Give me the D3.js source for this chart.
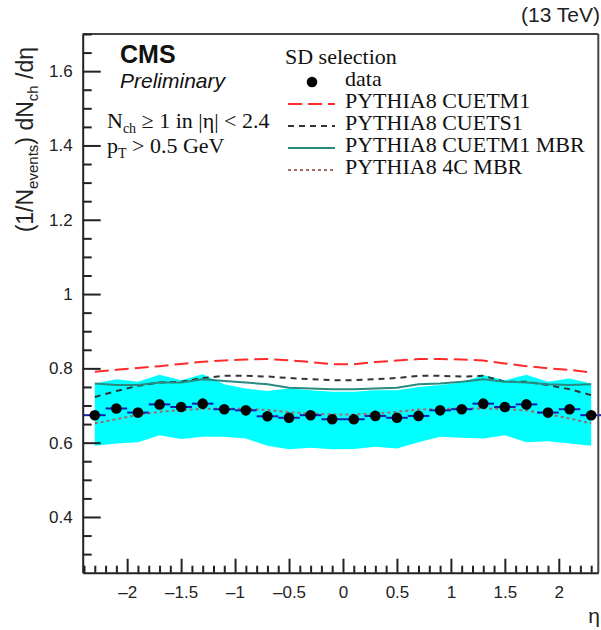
<!DOCTYPE html>
<html>
<head>
<meta charset="utf-8">
<script src="https://cdn.jsdelivr.net/npm/d3@7"></script>
<style>
  body { margin: 0; background: #fff; }
  svg { display: block; }
</style>
</head>
<body>
<svg id="chart" width="601" height="630"></svg>
<script>
// Pseudorapidity bin centres (bin width 0.2)
const etaCenters = [-2.3, -2.1, -1.9, -1.7, -1.5, -1.3, -1.1, -0.9, -0.7, -0.5, -0.3, -0.1,
                     0.1, 0.3, 0.5, 0.7, 0.9, 1.1, 1.3, 1.5, 1.7, 1.9, 2.1, 2.3];
const binHalfWidth = 0.1;

// Measured dN/deta, SD selection
const dataValues = [0.674, 0.692, 0.681, 0.703, 0.696, 0.705, 0.690, 0.687, 0.671, 0.667, 0.674, 0.663,
                    0.663, 0.672, 0.667, 0.672, 0.687, 0.690, 0.705, 0.696, 0.703, 0.681, 0.690, 0.674];

// Systematic uncertainty band (lower / upper edge)
const bandLow  = [0.592, 0.598, 0.601, 0.620, 0.610, 0.616, 0.616, 0.611, 0.592, 0.582, 0.586, 0.582,
                  0.583, 0.589, 0.584, 0.601, 0.616, 0.613, 0.611, 0.620, 0.601, 0.604, 0.598, 0.592];
const bandHigh = [0.759, 0.771, 0.764, 0.783, 0.768, 0.784, 0.757, 0.746, 0.739, 0.746, 0.741, 0.737,
                  0.737, 0.741, 0.741, 0.750, 0.755, 0.762, 0.782, 0.768, 0.783, 0.764, 0.773, 0.759];

// Generator predictions
const pythiaCUETM1    = [0.791, 0.796, 0.801, 0.806, 0.812, 0.818, 0.821, 0.824, 0.825, 0.822, 0.817, 0.811,
                         0.811, 0.817, 0.821, 0.825, 0.825, 0.824, 0.821, 0.813, 0.806, 0.800, 0.796, 0.789];
const pythiaCUETS1    = [0.723, 0.739, 0.753, 0.762, 0.764, 0.774, 0.780, 0.780, 0.778, 0.774, 0.771, 0.768,
                         0.768, 0.771, 0.774, 0.780, 0.780, 0.778, 0.780, 0.764, 0.764, 0.755, 0.744, 0.728];
const pythiaCUETM1MBR = [0.759, 0.755, 0.755, 0.762, 0.762, 0.771, 0.766, 0.762, 0.757, 0.748, 0.746, 0.744,
                         0.744, 0.746, 0.748, 0.757, 0.759, 0.764, 0.771, 0.764, 0.762, 0.757, 0.755, 0.757];
const pythia4CMBR     = [0.652, 0.663, 0.675, 0.683, 0.688, 0.691, 0.692, 0.691, 0.688, 0.682, 0.678, 0.676,
                         0.676, 0.678, 0.683, 0.689, 0.691, 0.692, 0.692, 0.690, 0.687, 0.677, 0.665, 0.652];

// Axis ticks
const xMajorTicks = [-2, -1.5, -1, -0.5, 0, 0.5, 1, 1.5, 2];
const xTickLabels = ["\u20132", "\u20131.5", "\u20131", "\u20130.5", "0", "0.5", "1", "1.5", "2"];
const xMinorTicks = d3.range(-24, 24).map(i => i / 10).filter(v => Math.abs(v * 2 - Math.round(v * 2)) > 1e-6);
const yMajorTicks = [0.4, 0.6, 0.8, 1, 1.2, 1.4, 1.6];
const yTickLabels = ["0.4", "0.6", "0.8", "1", "1.2", "1.4", "1.6"];
const yMinorTicks = d3.range(6, 35).map(i => i * 0.05).filter(v => Math.abs(v * 5 - Math.round(v * 5)) > 1e-6);

const legendEntries = [
  { label: "PYTHIA8 CUETM1",     color: "#ff2a2a", dash: "14,6", width: 2 },
  { label: "PYTHIA8 CUETS1",     color: "#333333", dash: "6,5",  width: 2 },
  { label: "PYTHIA8 CUETM1 MBR", color: "#2a8a80", dash: null,   width: 2 },
  { label: "PYTHIA8 4C MBR",     color: "#a06a6a", dash: "3,3",  width: 2 }
];
const curves = [pythiaCUETM1, pythiaCUETS1, pythiaCUETM1MBR, pythia4CMBR];

const svg = d3.select("#chart");
const frame = { left: 82.7, right: 598.3, top: 34, bottom: 572.7 };

const x = d3.scaleLinear().domain([-2.412, 2.366]).range([frame.left, frame.right]);
const y = d3.scaleLinear().domain([0.25, 1.7]).range([frame.bottom, frame.top]);

const sans = "'Liberation Sans', Arial, Helvetica, sans-serif";
const serif = "'Liberation Serif', 'Times New Roman', serif";
const textSize = 22;

// Uncertainty band
const band = d3.area()
  .x((d, i) => x(etaCenters[i]))
  .y0((d, i) => y(bandLow[i]))
  .y1((d, i) => y(bandHigh[i]));
svg.append("path").datum(etaCenters).attr("d", band).attr("fill", "#00ffff");

// Generator curves
const line = values => d3.line().x((d, i) => x(etaCenters[i])).y((d, i) => y(values[i]))(etaCenters);
curves.forEach((values, k) => {
  const e = legendEntries[k];
  svg.append("path")
    .attr("d", line(values))
    .attr("fill", "none")
    .attr("stroke", e.color)
    .attr("stroke-width", e.width)
    .attr("stroke-dasharray", e.dash);
});

// Data: horizontal bin-width bars and markers
const pts = svg.append("g");
pts.selectAll("line").data(etaCenters).join("line")
  .attr("x1", d => x(d - binHalfWidth))
  .attr("x2", d => x(d + binHalfWidth))
  .attr("y1", (d, i) => y(dataValues[i]))
  .attr("y2", (d, i) => y(dataValues[i]))
  .attr("stroke", "#1a1ab4")
  .attr("stroke-width", 2);
pts.selectAll("circle").data(etaCenters).join("circle")
  .attr("cx", d => x(d))
  .attr("cy", (d, i) => y(dataValues[i]))
  .attr("r", 5.3)
  .attr("fill", "#000");

// Frame (top and right)
svg.append("line").attr("x1", frame.left).attr("x2", frame.right).attr("y1", frame.top).attr("y2", frame.top)
  .attr("stroke", "#444").attr("stroke-width", 2);
svg.append("line").attr("x1", frame.right).attr("x2", frame.right).attr("y1", frame.top).attr("y2", frame.bottom)
  .attr("stroke", "#444").attr("stroke-width", 2);

// Axes with inward ticks
function styleAxis(g) {
  g.selectAll("path.domain").attr("stroke", "#222").attr("stroke-width", 2);
  g.selectAll(".tick line").attr("stroke", "#222").attr("stroke-width", 2);
  g.selectAll("text").attr("font-family", sans).attr("font-size", 17).attr("fill", "#222");
}

const yMinor = svg.append("g").attr("transform", `translate(${frame.left},0)`)
  .call(d3.axisLeft(y).tickValues(yMinorTicks).tickSize(-9).tickFormat(""));
yMinor.select("path.domain").remove();
styleAxis(yMinor);
const yAxis = svg.append("g").attr("transform", `translate(${frame.left},0)`)
  .call(d3.axisLeft(y).tickValues(yMajorTicks).tickSize(-18).tickSizeOuter(0).tickPadding(10)
    .tickFormat((d, i) => yTickLabels[i]));
styleAxis(yAxis);

const xMinor = svg.append("g").attr("transform", `translate(0,${frame.bottom})`)
  .call(d3.axisBottom(x).tickValues(xMinorTicks).tickSize(-7).tickFormat(""));
xMinor.select("path.domain").remove();
styleAxis(xMinor);
const xAxis = svg.append("g").attr("transform", `translate(0,${frame.bottom})`)
  .call(d3.axisBottom(x).tickValues(xMajorTicks).tickSize(-14).tickSizeOuter(0).tickPadding(13)
    .tickFormat((d, i) => xTickLabels[i]));
styleAxis(xAxis);

// Axis titles
svg.append("text").attr("x", 600).attr("y", 623).attr("text-anchor", "end")
  .attr("font-family", sans).attr("font-size", 21).attr("fill", "#222").text("η");

const yTitle = svg.append("text")
  .attr("transform", "translate(33,47) rotate(-90)")
  .attr("text-anchor", "end")
  .attr("font-family", sans).attr("font-size", 23).attr("fill", "#222");
yTitle.append("tspan").text("(1/N");
yTitle.append("tspan").attr("font-size", 15).attr("dy", 5).text("events");
yTitle.append("tspan").attr("dy", -5).text(") dN");
yTitle.append("tspan").attr("font-size", 15).attr("dy", 5).text("ch");
yTitle.append("tspan").attr("dy", -5).text(" /dη");

// Energy label
svg.append("text").attr("x", 600).attr("y", 22).attr("text-anchor", "end")
  .attr("font-family", sans).attr("font-size", 21).attr("fill", "#222").text("(13 TeV)");

// CMS labels
svg.append("text").attr("x", 120).attr("y", 63)
  .attr("font-family", sans).attr("font-weight", "bold").attr("font-size", 25).attr("fill", "#111").text("CMS");
svg.append("text").attr("x", 120).attr("y", 88)
  .attr("font-family", sans).attr("font-style", "italic").attr("font-size", 21).attr("fill", "#111").text("Preliminary");

const sel1 = svg.append("text").attr("x", 107).attr("y", 128)
  .attr("font-family", serif).attr("font-size", textSize).attr("fill", "#111");
sel1.append("tspan").text("N");
sel1.append("tspan").attr("font-size", 14).attr("dy", 5).text("ch");
sel1.append("tspan").attr("dy", -5).text(" ≥ 1 in |η| < 2.4");

const sel2 = svg.append("text").attr("x", 107).attr("y", 153)
  .attr("font-family", serif).attr("font-size", textSize).attr("fill", "#111");
sel2.append("tspan").text("p");
sel2.append("tspan").attr("font-size", 14).attr("dy", 5).text("T");
sel2.append("tspan").attr("dy", -5).text(" > 0.5 GeV");

// Legend
const leg = svg.append("g");
leg.append("text").attr("x", 285).attr("y", 64)
  .attr("font-family", serif).attr("font-size", textSize).attr("fill", "#111").text("SD selection");
leg.append("circle").attr("cx", 312).attr("cy", 82).attr("r", 5.3).attr("fill", "#000");
leg.append("text").attr("x", 345).attr("y", 86)
  .attr("font-family", serif).attr("font-size", textSize).attr("fill", "#111").text("data");
legendEntries.forEach((e, k) => {
  const by = 108 + 22 * k;
  leg.append("line").attr("x1", 288).attr("x2", 335).attr("y1", by - 4).attr("y2", by - 4)
    .attr("stroke", e.color).attr("stroke-width", e.width).attr("stroke-dasharray", e.dash);
  leg.append("text").attr("x", 345).attr("y", by)
    .attr("font-family", serif).attr("font-size", textSize).attr("fill", "#111").text(e.label);
});
</script>
</body>
</html>
